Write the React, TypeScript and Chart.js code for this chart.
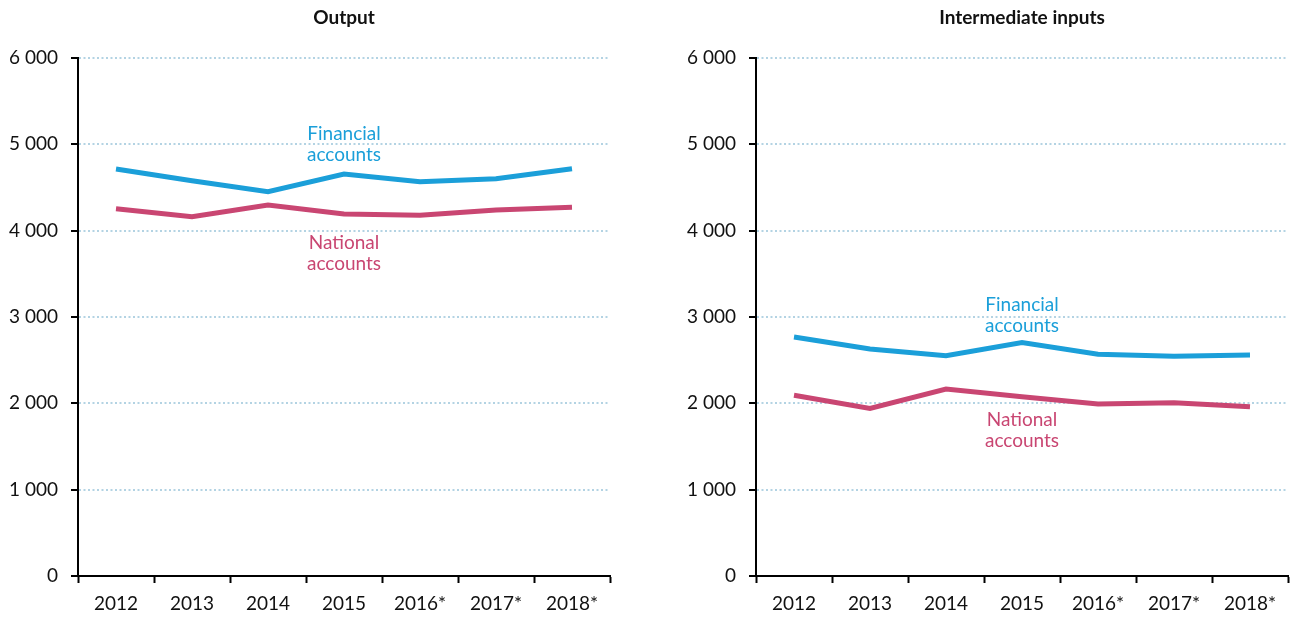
import React, { useEffect, useRef } from "react";
import { Chart, registerables } from "chart.js";

Chart.register(...registerables);

const years = ["2012", "2013", "2014", "2015", "2016*", "2017*", "2018*"];
const outputFinancial = [4714, 4579, 4452, 4657, 4567, 4602, 4718];
const outputNational = [4254, 4162, 4297, 4193, 4178, 4240, 4271];
const inputsFinancial = [2768, 2629, 2552, 2703, 2568, 2545, 2560];
const inputsNational = [2093, 1942, 2166, 2077, 1992, 2008, 1961];
const seriesNames = ["Financial accounts", "National accounts"];
const yMin = 0;
const yMax = 6000;
const yStep = 1000;

const BLUE = "#1b9fd9";
const RED = "#c94672";
const FONT = "Lato, 'Noto Sans', sans-serif";

type PanelProps = {
  title: string;
  financial: number[];
  national: number[];
  finLabelValue: number;
  natLabelValue: number;
  width: number;
  left: number;
  padRight: number;
};

function fmt(v: number) {
  const s = String(Math.round(v));
  return s.replace(/\B(?=(\d{3})+(?!\d))/g, " ");
}

function Panel(props: PanelProps) {
  const ref = useRef<HTMLCanvasElement | null>(null);
  useEffect(() => {
    if (!ref.current) return;
    const labelPlugin = {
      id: "labels",
      afterDraw(chart: any) {
        const ctx = chart.ctx;
        const xs = chart.scales.x;
        const ys = chart.scales.y;
        const area = chart.chartArea;
        ctx.save();
        ctx.textAlign = "center";
        ctx.textBaseline = "middle";
        ctx.fillStyle = "#111";
        ctx.font = "bold 19px " + FONT;
        ctx.fillText(props.title, xs.getPixelForValue(3), area.top - 40);
        ctx.font = "19px " + FONT;
        const cx = xs.getPixelForValue(3);
        const fy = ys.getPixelForValue(props.finLabelValue);
        ctx.fillStyle = BLUE;
        ctx.fillText("Financial", cx, fy);
        ctx.fillText("accounts", cx, fy + 21);
        const ny = ys.getPixelForValue(props.natLabelValue);
        ctx.fillStyle = RED;
        ctx.fillText("National", cx, ny);
        ctx.fillText("accounts", cx, ny + 21);
        ctx.restore();
      },
    };
    const chart = new Chart(ref.current, {
      type: "line",
      data: {
        labels: years,
        datasets: [
          {
            label: seriesNames[0],
            data: props.financial,
            borderColor: BLUE,
            borderWidth: 5,
            pointRadius: 0,
            tension: 0,
          },
          {
            label: seriesNames[1],
            data: props.national,
            borderColor: RED,
            borderWidth: 5,
            pointRadius: 0,
            tension: 0,
          },
        ],
      },
      options: {
        animation: false,
        responsive: false,
        devicePixelRatio: 1,
        layout: { padding: { top: 58, right: props.padRight, bottom: 0, left: 0 } },
        plugins: {
          legend: { display: false },
          tooltip: { enabled: false },
          title: { display: false },
        },
        scales: {
          x: {
            type: "category",
            offset: true,
            grid: {
              display: true,
              offset: true,
              drawOnChartArea: false,
              drawTicks: true,
              tickLength: 7,
              tickColor: "#000",
              tickWidth: 2,
            },
            border: { display: true, color: "#000", width: 2 },
            ticks: {
              color: "#111",
              font: { family: FONT, size: 19 },
              padding: 9,
              maxRotation: 0,
              autoSkip: false,
            },
            afterFit(scale: any) {
              scale.height = 43;
            },
          },
          y: {
            min: yMin,
            max: yMax,
            grid: {
              color: "#b3d3e3",
              lineWidth: 2,
              tickBorderDash: [],
              drawTicks: true,
              tickLength: 7,
              tickColor: "#000",
              tickWidth: 2,
            },
            border: { display: true, color: "#000", width: 2, dash: [2, 2.5] },
            ticks: {
              stepSize: yStep,
              color: "#111",
              font: { family: FONT, size: 19 },
              padding: 13,
              callback: (v: any) => fmt(Number(v)),
            },
            afterFit(scale: any) {
              scale.width = 78;
            },
          },
        },
      } as any,
      plugins: [labelPlugin],
    });
    return () => chart.destroy();
  }, []);
  return (
    <canvas
      ref={ref}
      width={props.width}
      height={619}
      style={{ position: "absolute", left: props.left, top: 0, width: props.width, height: 619 }}
    />
  );
}

export default function App() {
  return (
    <div style={{ position: "absolute", left: 0, top: 0, width: 1293, height: 619, background: "#fff" }}>
      <Panel
        title="Output"
        financial={outputFinancial}
        national={outputNational}
        finLabelValue={5120}
        natLabelValue={3857}
        width={620}
        left={0}
        padRight={10}
      />
      <Panel
        title="Intermediate inputs"
        financial={inputsFinancial}
        national={inputsNational}
        finLabelValue={3139}
        natLabelValue={1807}
        width={615}
        left={678}
        padRight={5}
      />
    </div>
  );
}
